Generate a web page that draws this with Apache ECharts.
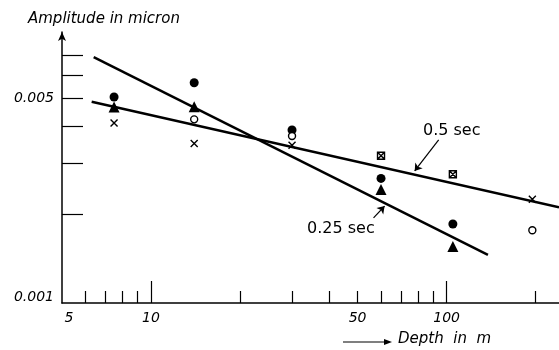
<!DOCTYPE html>
<html>
<head>
<meta charset="utf-8">
<script src="https://cdn.jsdelivr.net/npm/echarts@6/dist/echarts.min.js"></script>
<style>
  html, body { margin: 0; padding: 0; background: #fff; }
  #chart { width: 559px; height: 350px; }
</style>
</head>
<body>
<div id="chart"></div>
<script>
// 深度 (m)
const depths = [7.5, 14, 30, 60, 105, 195];
// 各符号的测点 [depth, amplitude]
const filledCircles = [[7.5, 0.00504], [14, 0.00564], [30, 0.00389], [60, 0.00266], [105, 0.00186]];
const filledTriangles = [[7.5, 0.00466], [14, 0.00467], [60, 0.00244], [105, 0.00156]];
const openCircles = [[14, 0.00423], [30, 0.00371], [195, 0.00177]];
const crosses = [[7.5, 0.00411], [14, 0.0035], [30, 0.00345], [195, 0.00226]];
const boxedCrosses = [[60, 0.00318], [105, 0.00275]];
// 拟合直线
const line05 = [[6.3, 0.00486], [240, 0.00212]];
const line025 = [[6.4, 0.0069], [138, 0.00146]];
// 注释箭头
const arrow05 = [[94, 0.0036], [78, 0.00282]];
const arrow025 = [[56.6, 0.00195], [61.7, 0.00214]];
// 刻度
const xMinorTicks = [6, 7, 8, 9, 20, 30, 40, 50, 60, 70, 80, 90, 200];
const xMajorTicks = [10, 100];
const xLabels = [5, 10, 50, 100];
const yTicks = [0.002, 0.003, 0.004, 0.005, 0.006, 0.007];
const yLabels = [0.001, 0.005];

const FONT = 'DejaVu Sans';
const chart = echarts.init(document.getElementById('chart'));

const crossPath = 'path://M0,0L10,10M10,0L0,10';
const boxPath = 'path://M0,0L10,0L10,10L0,10ZM0,0L10,10M10,0L0,10';

function scatter(data, symbol, size, hollow) {
    return {
        type: 'scatter', xAxisIndex: 0, data: data, symbol: symbol, symbolSize: size,
        itemStyle: hollow
            ? { color: '#fff', borderColor: '#000', borderWidth: 1.4, opacity: 1 }
            : { color: '#000', opacity: 1 },
        z: 5
    };
}

const option = {
    animation: false,
    grid: { left: 62, right: 0, top: 32, bottom: 47 },
    xAxis: [
        {
            type: 'log', logBase: 10, min: 5, max: 240,
            axisLine: { lineStyle: { color: '#000', width: 1.5 } },
            axisTick: { inside: true, length: 12, customValues: xMinorTicks, lineStyle: { color: '#000', width: 1.2 } },
            axisLabel: {
                customValues: xLabels, color: '#000', fontFamily: FONT, fontStyle: 'italic',
                fontSize: 14, margin: 8,
                formatter: v => v === 5 ? '{five|5}' : String(v),
                rich: { five: { padding: [0, 0, 0, 14], fontFamily: FONT, fontStyle: 'italic', fontSize: 14, color: '#000' } }
            },
            splitLine: { show: false }, minorSplitLine: { show: false }
        },
        {
            type: 'log', logBase: 10, min: 5, max: 240, position: 'bottom',
            axisLine: { show: false },
            axisTick: { inside: true, length: 22, customValues: xMajorTicks, lineStyle: { color: '#000', width: 1.2 } },
            axisLabel: { show: false },
            splitLine: { show: false }
        }
    ],
    yAxis: {
        type: 'log', logBase: 10, min: 0.001, max: 0.0084,
        axisLine: { lineStyle: { color: '#000', width: 1.5 }, symbol: ['none', 'arrow'], symbolSize: [6, 9] },
        axisTick: { inside: true, length: 21, customValues: yTicks, lineStyle: { color: '#000', width: 1.2 } },
        axisLabel: {
            customValues: yLabels, color: '#000', fontFamily: FONT, fontStyle: 'italic', fontSize: 14,
            margin: 8,
            formatter: v => v < 0.002 ? '{lo|' + v.toFixed(3) + '}' : v.toFixed(3),
            rich: { lo: { padding: [0, 0, 12, 0], fontFamily: FONT, fontStyle: 'italic', fontSize: 14, color: '#000' } }
        },
        splitLine: { show: false }
    },
    series: [
        {
            type: 'line', data: line05, symbol: 'none', lineStyle: { color: '#000', width: 2.5 },
            markLine: {
                silent: true, symbol: ['none', 'arrow'], symbolSize: 7, label: { show: false },
                lineStyle: { color: '#000', width: 1.2, type: 'solid' },
                data: [[{ coord: arrow05[0] }, { coord: arrow05[1] }]]
            }
        },
        {
            type: 'line', data: line025, symbol: 'none', lineStyle: { color: '#000', width: 2.5 },
            markLine: {
                silent: true, symbol: ['none', 'arrow'], symbolSize: 7, label: { show: false },
                lineStyle: { color: '#000', width: 1.2, type: 'solid' },
                data: [[{ coord: arrow025[0] }, { coord: arrow025[1] }]]
            }
        },
        scatter(filledCircles, 'circle', 9, false),
        scatter(filledTriangles, 'triangle', 11, false),
        scatter(openCircles, 'circle', 7, true),
        scatter(crosses, crossPath, 7, true),
        scatter(boxedCrosses, boxPath, 7, true)
    ],
    graphic: [
        { type: 'text', left: 28, top: 12, style: { text: 'Amplitude in micron', font: 'italic 15px "DejaVu Sans"', fill: '#000' } },
        { type: 'text', left: 423, top: 123, style: { text: '0.5 sec', font: '16px "DejaVu Sans"', fill: '#000' } },
        { type: 'text', left: 307, top: 221, style: { text: '0.25 sec', font: '16px "DejaVu Sans"', fill: '#000' } },
        { type: 'line', shape: { x1: 343, y1: 342, x2: 388, y2: 342 }, style: { stroke: '#000', lineWidth: 1.2 } },
        { type: 'polygon', shape: { points: [[392, 342], [384, 339], [384, 345]] }, style: { fill: '#000' } },
        { type: 'text', left: 398, top: 332, style: { text: 'Depth  in  m', font: 'italic 15px "DejaVu Sans"', fill: '#000' } }
    ]
};

chart.setOption(option);
</script>
</body>
</html>
